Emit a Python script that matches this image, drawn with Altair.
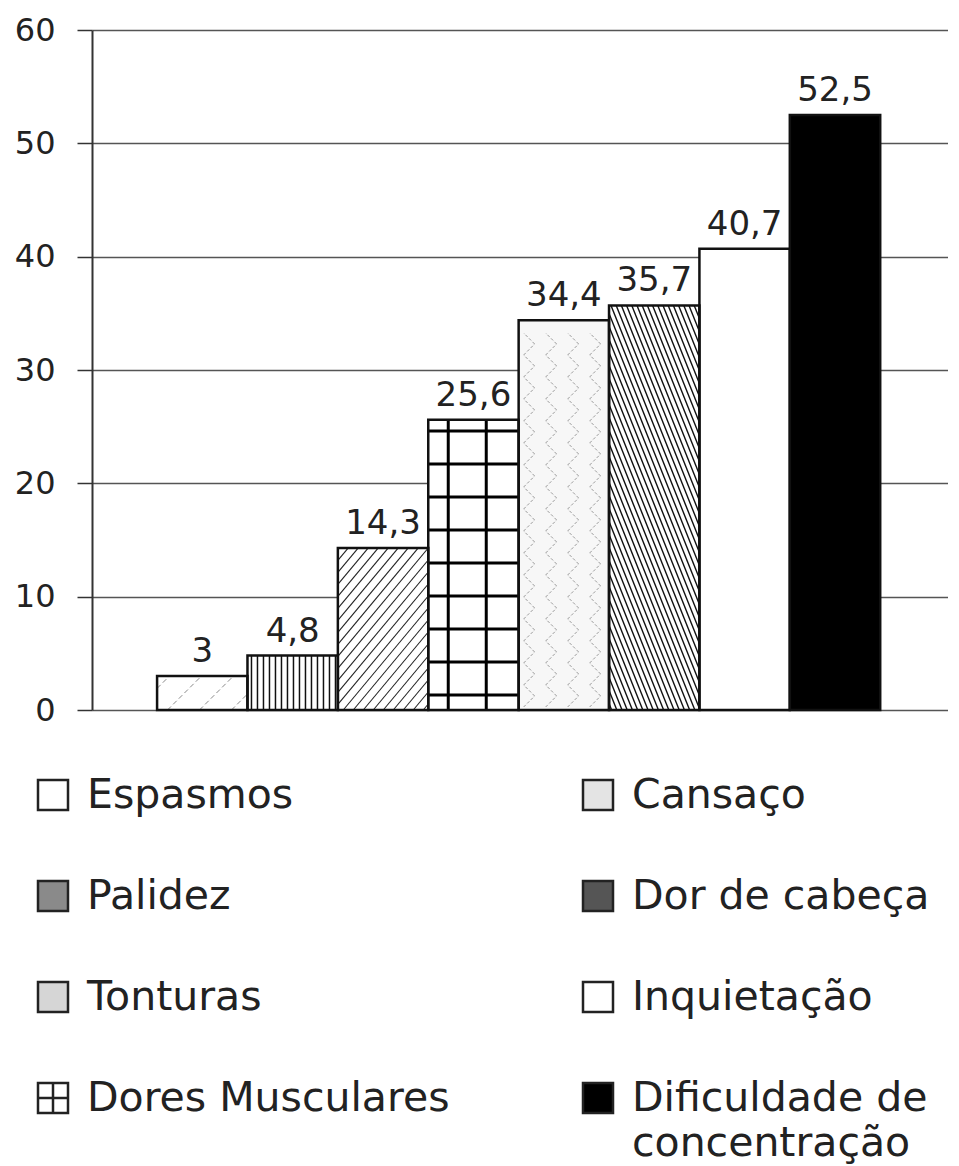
import altair as alt
import pandas as pd

# ---------------- data ----------------
categories = ["Espasmos", "Palidez", "Tonturas", "Dores Musculares",
              "Cansaço", "Dor de cabeça", "Inquietação", "Dificuldade de concentração"]
values = [3, 4.8, 14.3, 25.6, 34.4, 35.7, 40.7, 52.5]
value_labels = ["3", "4,8", "14,3", "25,6", "34,4", "35,7", "40,7", "52,5"]
legend_labels = ["Espasmos", "Palidez", "Tonturas", "Dores Musculares",
                 "Cansaço", "Dor de cabeça", "Inquietação", "Dificuldade de\nconcentração"]
y_ticks = [0, 10, 20, 30, 40, 50, 60]

# ---------------- styles ----------------
bar_fills = ["white", "white", "white", "white", "#f7f7f7", "white", "white", "black"]
legend_fills = ["white", "#8a8a8a", "#d6d6d6", "white", "#e4e4e4", "#555555", "white", "black"]
FONT = "DejaVu Sans"
W = 856
H_PLOT = 680
TOTAL_H = 1136
X_DOMAIN = [-0.72, 8.75]
Y_DOMAIN = [0, 60]
PX = W / (X_DOMAIN[1] - X_DOMAIN[0])      # pixels per bar slot
PY = H_PLOT / (Y_DOMAIN[1] - Y_DOMAIN[0])  # pixels per y unit

# ---------------- texture (hatch) segments, derived from bar geometry ----------------
def slanted(idx, h, slope, step):
    segs = []
    if slope > 0:
        c, c_max = -slope * PX + step / 2, h
    else:
        c, c_max = step / 2, h - slope * PX
    while c <= c_max:
        ua, ub = (0 - c) / slope, (h - c) / slope
        lo, hi = max(0.0, min(ua, ub)), min(PX, max(ua, ub))
        if hi - lo > 0.5:
            segs.append((idx + lo / PX, (slope * lo + c) / PY, idx + hi / PX, (slope * hi + c) / PY))
        c += step
    return segs

def verticals(idx, h, offsets):
    return [(idx + u / PX, 0, idx + u / PX, h / PY) for u in offsets]

def horizontals(idx, h, w0, step):
    segs, w = [], w0
    while w < h - 3:
        segs.append((idx, w / PY, idx + 1, w / PY))
        w += step
    return segs

def zigzag(idx, h, col_step=22, amp=11):
    segs = []
    u0 = 5
    while u0 + amp < PX - 2:
        w = 3
        while w + amp <= h - 2:
            segs.append((idx + u0 / PX, w / PY, idx + (u0 + amp) / PX, (w + amp) / PY))
            if w + 2 * amp <= h - 2:
                segs.append((idx + (u0 + amp) / PX, (w + amp) / PY, idx + u0 / PX, (w + 2 * amp) / PY))
            w += 2 * amp
        u0 += col_step
    return segs

rows = []
def add(pattern, segs):
    for s in segs:
        rows.append({"pattern": pattern, "x": s[0], "y": s[1], "x2": s[2], "y2": s[3]})

hpx = [v * PY for v in values]
add("esp", slanted(0, hpx[0], 1.0, 32))
pal_offsets = []
u = 4.0
while u < PX - 2:
    pal_offsets.append(u)
    u += 6.0
add("pal", verticals(1, hpx[1], pal_offsets))
add("ton", slanted(2, hpx[2], 1.2, 12))
add("dor_v", verticals(3, hpx[3], [20, 58]))
add("dor_h", horizontals(3, hpx[3], 15, 33))
add("can", zigzag(4, hpx[4]))
add("cab", slanted(5, hpx[5], -2.5, 13))
seg_df = pd.DataFrame(rows)

hatch_styles = {
    "esp": dict(color="#8a8a8a", strokeWidth=1, strokeDash=[5, 3]),
    "pal": dict(color="#111111", strokeWidth=1.5),
    "ton": dict(color="#222222", strokeWidth=1.1),
    "dor_v": dict(color="#000000", strokeWidth=3),
    "dor_h": dict(color="#000000", strokeWidth=3),
    "can": dict(color="#9a9a9a", strokeWidth=1, strokeDash=[3, 2]),
    "cab": dict(color="#111111", strokeWidth=1.4),
}

# ---------------- main chart ----------------
bars_df = pd.DataFrame({"category": categories, "value": values, "label": value_labels,
                        "fill": bar_fills, "idx": list(range(len(categories)))})

xs = alt.Scale(domain=X_DOMAIN, nice=False, zero=False)
ys = alt.Scale(domain=Y_DOMAIN, range=[H_PLOT, 0], nice=False, zero=False)

base = alt.Chart(bars_df).transform_calculate(x2="datum.idx + 1", xc="datum.idx + 0.5")

bars = base.mark_rect(strokeWidth=0).encode(
    x=alt.X("idx:Q", scale=xs, axis=None),
    x2="x2:Q",
    y=alt.Y("value:Q", scale=ys, title=None, axis=alt.Axis(values=y_ticks)),
    y2=alt.datum(0),
    fill=alt.Fill("fill:N", scale=None),
)

hatches = []
for p, st in hatch_styles.items():
    hatches.append(
        alt.Chart(seg_df[seg_df["pattern"] == p]).mark_rule(**st).encode(
            x=alt.X("x:Q", scale=xs, axis=None),
            x2="x2:Q",
            y=alt.Y("y:Q", scale=ys, title=None),
            y2="y2:Q",
        )
    )

outline = base.mark_rect(fillOpacity=0, stroke="#111111", strokeWidth=2.5).encode(
    x=alt.X("idx:Q", scale=xs, axis=None),
    x2="x2:Q",
    y=alt.Y("value:Q", scale=ys, title=None),
    y2=alt.datum(0),
)

labels = base.mark_text(dy=-14, baseline="alphabetic", align="center", fontSize=34,
                        font=FONT, color="#222222").encode(
    x=alt.X("xc:Q", scale=xs, axis=None),
    y=alt.Y("value:Q", scale=ys, title=None),
    text="label:N",
)

main = alt.layer(bars, *hatches, outline, labels)

# ---------------- legend (two columns) ----------------
leg_df = pd.DataFrame({
    "category": categories,
    "label": legend_labels,
    "fill": legend_fills,
    "col": [i // 4 for i in range(len(categories))],
    "row": [i % 4 for i in range(len(categories))],
})
lx = alt.Scale(domain=[0, 1], range=[-5, 540], nice=False, zero=False)
ly = alt.Scale(domain=[0, 3], range=[778, 1081], nice=False, zero=False)
lbase = alt.Chart(leg_df)
enc = dict(x=alt.X("col:Q", scale=lx, axis=None), y=alt.Y("row:Q", scale=ly, axis=None))

leg_sym = lbase.mark_square(size=900, xOffset=-34, yOffset=-13, stroke="#222222",
                            strokeWidth=2.5, opacity=1).encode(
    fill=alt.Fill("fill:N", scale=None), **enc)
leg_cross_v = lbase.transform_filter(alt.datum.category == "Dores Musculares").mark_tick(
    orient="vertical", size=30, thickness=2.5, xOffset=-34, yOffset=-13, color="#222222",
    opacity=1).encode(**enc)
leg_cross_h = lbase.transform_filter(alt.datum.category == "Dores Musculares").mark_tick(
    orient="horizontal", size=30, thickness=2.5, xOffset=-34, yOffset=-13, color="#222222",
    opacity=1).encode(**enc)
leg_text = lbase.mark_text(align="left", baseline="alphabetic", fontSize=41, font=FONT,
                           color="#222222", lineBreak="\n", lineHeight=45).encode(
    text="label:N", **enc)

legend = alt.layer(leg_sym, leg_cross_v, leg_cross_h, leg_text)

chart = (
    alt.layer(main, legend)
    .resolve_scale(x="independent", y="independent")
    .properties(
        width=W, height=TOTAL_H,
        autosize=alt.AutoSizeParams(type="none"),
        padding={"left": 84, "top": 22, "right": 0, "bottom": 0},
        background="white",
    )
    .configure_view(stroke=None)
    .configure_axisY(
        labelFont=FONT, labelFontSize=32, labelColor="#222222", labelPadding=22,
        tickSize=15, tickColor="#333333", tickWidth=1.5,
        domainColor="#333333", domainWidth=2,
        grid=True, gridColor="#555555", gridWidth=1.5,
    )
)

chart.save("out.html", embed_options={"renderer": "svg", "actions": False})
